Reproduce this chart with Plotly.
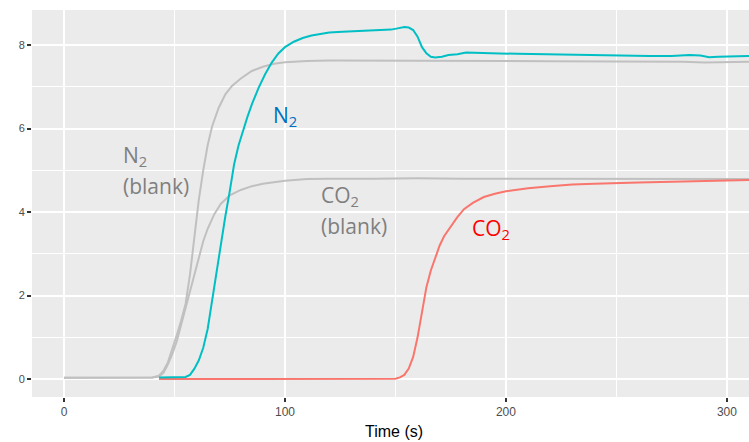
import plotly.graph_objects as go

# N2 blank (grey)
n2_blank_x = [0, 10, 20, 30, 40, 43, 45, 47, 49, 51, 53, 55, 57, 59, 61, 63, 65, 67, 70, 73, 76, 80, 85, 90, 95, 100, 110, 120, 140, 160, 180, 200, 220, 240, 260, 280, 290, 300, 310]
n2_blank_y = [0.03, 0.03, 0.03, 0.03, 0.04, 0.08, 0.2, 0.4, 0.7, 1.05, 1.4, 1.8, 2.5, 3.4, 4.3, 5.0, 5.6, 6.05, 6.5, 6.82, 7.02, 7.2, 7.38, 7.48, 7.55, 7.59, 7.62, 7.63, 7.63, 7.63, 7.62, 7.62, 7.61, 7.61, 7.6, 7.6, 7.58, 7.59, 7.6]

# CO2 blank (grey)
co2_blank_x = [0, 10, 20, 30, 40, 43, 45, 47, 49, 51, 53, 55, 57, 59, 61, 63, 65, 68, 71, 75, 80, 85, 90, 95, 100, 110, 120, 140, 160, 180, 200, 220, 240, 260, 280, 300, 310]
co2_blank_y = [0.03, 0.03, 0.03, 0.03, 0.04, 0.06, 0.15, 0.35, 0.6, 0.9, 1.3, 1.7, 2.1, 2.5, 2.9, 3.3, 3.6, 3.95, 4.2, 4.4, 4.53, 4.62, 4.68, 4.72, 4.75, 4.79, 4.8, 4.8, 4.81, 4.8, 4.8, 4.8, 4.79, 4.8, 4.79, 4.79, 4.79]

# N2 sample (teal)
n2_x = [43, 50, 55, 57, 59, 61, 63, 65, 67, 69, 71, 73, 75, 77, 79, 81, 83, 85, 88, 91, 94, 97, 100, 104, 108, 112, 116, 120, 126, 132, 138, 144, 148, 151, 154, 156, 158, 160, 162, 164, 166, 168, 171, 174, 178, 182, 186, 190, 197, 205, 215, 225, 235, 245, 255, 265, 275, 283, 288, 292, 296, 300, 305, 310]
n2_y = [0.04, 0.04, 0.05, 0.1, 0.25, 0.45, 0.75, 1.2, 1.9, 2.6, 3.3, 3.9, 4.5, 5.15, 5.6, 5.95, 6.28, 6.58, 6.97, 7.3, 7.58, 7.8, 7.95, 8.08, 8.17, 8.23, 8.27, 8.3, 8.32, 8.33, 8.34, 8.35, 8.37, 8.4, 8.43, 8.42, 8.36, 8.2, 7.95, 7.8, 7.72, 7.7, 7.72, 7.76, 7.78, 7.82, 7.81, 7.8, 7.8, 7.79, 7.78, 7.77, 7.76, 7.75, 7.74, 7.74, 7.74, 7.76, 7.75, 7.71, 7.72, 7.72, 7.73, 7.74]

# CO2 sample (red)
co2_x = [43, 60, 80, 100, 120, 140, 150, 152, 154, 156, 158, 160, 162, 164, 166, 168, 170, 172, 175, 178, 181, 185, 190, 195, 200, 210, 220, 230, 240, 250, 260, 270, 280, 290, 300, 310]
co2_y = [0, 0, 0, 0, 0, 0, 0.01, 0.04, 0.1, 0.25, 0.53, 1.0, 1.6, 2.2, 2.6, 2.92, 3.2, 3.42, 3.66, 3.88, 4.07, 4.22, 4.36, 4.44, 4.5, 4.57, 4.62, 4.66, 4.68, 4.7, 4.71, 4.72, 4.73, 4.74, 4.75, 4.77]

x_ticks = [0, 100, 200, 300]
y_ticks = [0, 2, 4, 6, 8]
x_title = "Time (s)"

GREY = "#C0C0C0"
fig = go.Figure()
fig.add_trace(go.Scatter(x=co2_blank_x, y=co2_blank_y, mode="lines", line=dict(color=GREY, width=2)))
fig.add_trace(go.Scatter(x=n2_blank_x, y=n2_blank_y, mode="lines", line=dict(color=GREY, width=2)))
fig.add_trace(go.Scatter(x=co2_x, y=co2_y, mode="lines", line=dict(color="#F8766D", width=2)))
fig.add_trace(go.Scatter(x=n2_x, y=n2_y, mode="lines", line=dict(color="#00BFC4", width=2)))

ann_font = "Open Sans, Noto Sans, sans-serif"
# each text line: (x in data units, y in data units, text, colour)
annots = [
    (25.6, 5.35, "N<sub>2</sub>", "#7F7F7F"),
    (25.6, 4.63, "(blank)", "#7F7F7F"),
    (115.6, 4.38, "CO<sub>2</sub>", "#7F7F7F"),
    (115.6, 3.66, "(blank)", "#7F7F7F"),
    (93.8, 6.3, "N<sub>2</sub>", "#0070C0"),
    (183.9, 3.59, "CO<sub>2</sub>", "#FF0000"),
]
for ax_, ay_, txt, col in annots:
    fig.add_annotation(x=ax_, y=ay_, text=txt, showarrow=False,
                       xanchor="left", yanchor="middle", align="left",
                       font=dict(family=ann_font, size=21, color=col))

axis_font = "Liberation Sans Narrow, Liberation Sans, Arial, sans-serif"
fig.add_annotation(x=149.3, xref="x", y=-0.09, yref="paper", text=x_title,
                   showarrow=False, xanchor="center", yanchor="middle",
                   font=dict(family=axis_font, size=16, color="black"))

fig.update_layout(
    width=749, height=442,
    margin=dict(l=32, r=0, t=10, b=45, autoexpand=False),
    paper_bgcolor="white", plot_bgcolor="#EBEBEB",
    showlegend=False,
    xaxis=dict(range=[-14.5, 310], tickvals=x_ticks, ticks="outside", ticklen=4,
               tickwidth=1.5, tickcolor="#333333", showgrid=True, gridcolor="white",
               gridwidth=1.5, zeroline=False, showline=False, automargin=False,
               minor=dict(dtick=50, tick0=0, showgrid=True, gridcolor="white", gridwidth=0.8),
               tickfont=dict(family=axis_font, size=12, color="#4D4D4D")),
    yaxis=dict(range=[-0.43, 8.84], tickvals=y_ticks, ticks="outside", ticklen=4,
               tickwidth=1.5, tickcolor="#333333", showgrid=True, gridcolor="white",
               gridwidth=1.5, zeroline=False, showline=False, automargin=False,
               minor=dict(dtick=1, tick0=0, showgrid=True, gridcolor="white", gridwidth=0.8),
               tickfont=dict(family=axis_font, size=11, color="#4D4D4D")),
)

# remove the default page margin so the 749x442 figure fills the window exactly
fig.write_html("out.html", config={"displayModeBar": False},
               post_script="document.body.style.margin='0px';document.body.style.overflow='hidden';")
